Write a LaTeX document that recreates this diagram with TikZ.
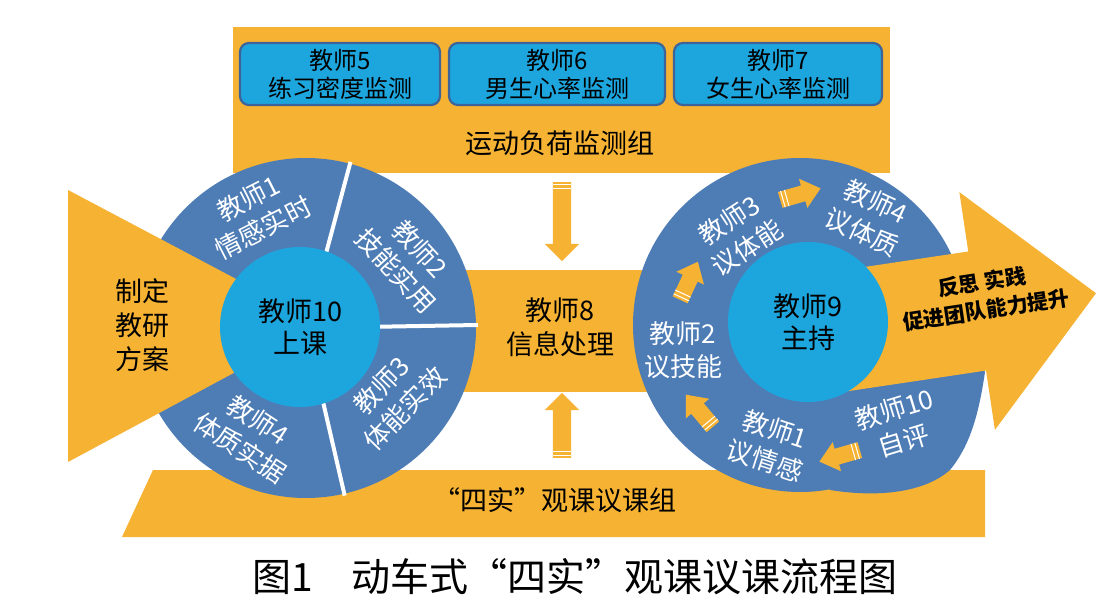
\documentclass[tikz,border=0pt]{standalone}
\usepackage{fontspec}
\setmainfont{Noto Sans CJK SC}
\usetikzlibrary{arrows.meta, positioning, shapes.arrows, calc}
\definecolor{Amber}{HTML}{F5B233}
\definecolor{RingBlue}{HTML}{4E7DB6}
\definecolor{SkyBlue}{HTML}{1DA6DE}
\definecolor{EdgeBlue}{HTML}{3D6399}

\begin{document}
\begin{tikzpicture}[
    x=1pt, y=-1pt,
    band/.style={fill=Amber},
    monitor/.style={rectangle, rounded corners=9pt, draw=EdgeBlue, line width=2.2pt, fill=SkyBlue, minimum height=62pt, align=center, inner sep=0pt, font=\fontsize{24}{28}\selectfont},
    hub/.style={circle, fill=SkyBlue, minimum size=160pt, inner sep=0pt, align=center, font=\fontsize{27}{32}\selectfont},
    ringtext/.style={text=white, align=center, inner sep=0pt, font=\fontsize{26}{33}\selectfont},
    darklabel/.style={align=center, inner sep=0pt, font=\fontsize{27}{34}\selectfont},
    fatarrow/.style={single arrow, fill=Amber, inner xsep=0pt, inner ysep=9pt, single arrow head extend=8pt, anchor=tail},
    turnarrow/.style={single arrow, fill=Amber, inner xsep=0pt, inner ysep=8pt, single arrow head extend=7pt, single arrow tip angle=80, minimum height=42pt, anchor=tail},
    stripe/.style={white, line width=1pt},
    divider/.style={white, line width=4pt}
]
\fill[white] (0,0) rectangle (1109,612);

% groups behind the wheels
\fill[band] (233,27) rectangle (890,173);
\fill[band] (420,270) rectangle (700,392);
\fill[band] (153,470) -- (985,470) -- (985,537) -- (122,537) -- cycle;

\node[monitor, minimum width=200pt] (t5) at (340,74) {教师5\\练习密度监测};
\node[monitor, minimum width=216pt] (t6) at (557,74) {教师6\\男生心率监测};
\node[monitor, minimum width=208pt] (t7) at (778,74) {教师7\\女生心率监测};
\node[darklabel] (load) at (560,143) {运动负荷监测组};
\node[darklabel] (info) at (560,327) {教师8\\信息处理};
\node[darklabel] (watch) at (555,500) {“四实”观课议课组};

\node[fatarrow, rotate=-90, minimum height=79pt] (down) at (562,182) {};
\node[fatarrow, rotate=90, minimum height=65pt] (up) at (562,458) {};

% left wheel
\coordinate (lc) at (306,328);
\fill[RingBlue] (lc) circle (170);
\foreach \a in {-75,-1,77}
  \draw[divider] (lc) -- ($(lc)+(\a:172)$);
\fill[band] (68,190) -- (323,325) -- (68,462) -- cycle;
\node[hub] (lesson) at (300,327) {教师10\\上课};
\node[darklabel] (plan) at (142,325) {制定\\教研\\方案};
\node[ringtext, rotate=27] (feel) at (256,213) {教师1\\情感实时};
\node[ringtext, rotate=-47] (skill) at (408,260) {教师2\\技能实用};
\node[ringtext, rotate=46] (power) at (393,397) {教师3\\体能实效};
\node[ringtext, rotate=-33] (build) at (249,434) {教师4\\体质实据};

% right wheel
\coordinate (rc) at (800,325);
\fill[RingBlue] (rc) circle (167);
\fill[RingBlue] (940,290) -- (985,372) .. controls (978,420) and (968,448) .. (950,470)
  .. controls (925,492) and (880,498) .. (830,490) -- (820,400) -- cycle;
\node[single arrow, fill=Amber, inner xsep=0pt, inner ysep=60pt, single arrow head extend=60pt,
  minimum height=289pt, anchor=tail, rotate=8.5] (onward) at (810,336) {};
\node[hub] (host) at (808,322) {教师9\\主持};
\node[darklabel, font=\bfseries\fontsize{21}{28}\selectfont, rotate=8.5] (gain) at (984,296) {反思 实践\\促进团队能力提升};

\node[ringtext, rotate=33] (r3) at (738,234) {教师3\\议体能};
\node[ringtext, rotate=-25] (r4) at (869,217) {教师4\\议体质};
\node[ringtext] (r2) at (683,350) {教师2\\议技能};
\node[ringtext, rotate=-18] (r1) at (770,445) {教师1\\议情感};
\node[ringtext, rotate=17] (r10) at (899,425) {教师10\\自评};

\node[turnarrow, rotate=16] (a34) at (780,200) {};
\node[turnarrow, rotate=65] (a23) at (680,300) {};
\node[turnarrow, rotate=130] (a12) at (713,427) {};
\node[turnarrow, rotate=196] (a101) at (860,450) {};

\foreach \n in {down,up,a34,a23,a12,a101}
  \foreach \f in {3pt,7pt}
    \draw[stripe] ($(\n.before tail)!\f!(\n.after head)$) -- ($(\n.after tail)!\f!(\n.before head)$);

\node[darklabel, font=\fontsize{39}{44}\selectfont] (title) at (575,577) {图1\hspace{1em}动车式“四实”观课议课流程图};
\end{tikzpicture}
\end{document}
